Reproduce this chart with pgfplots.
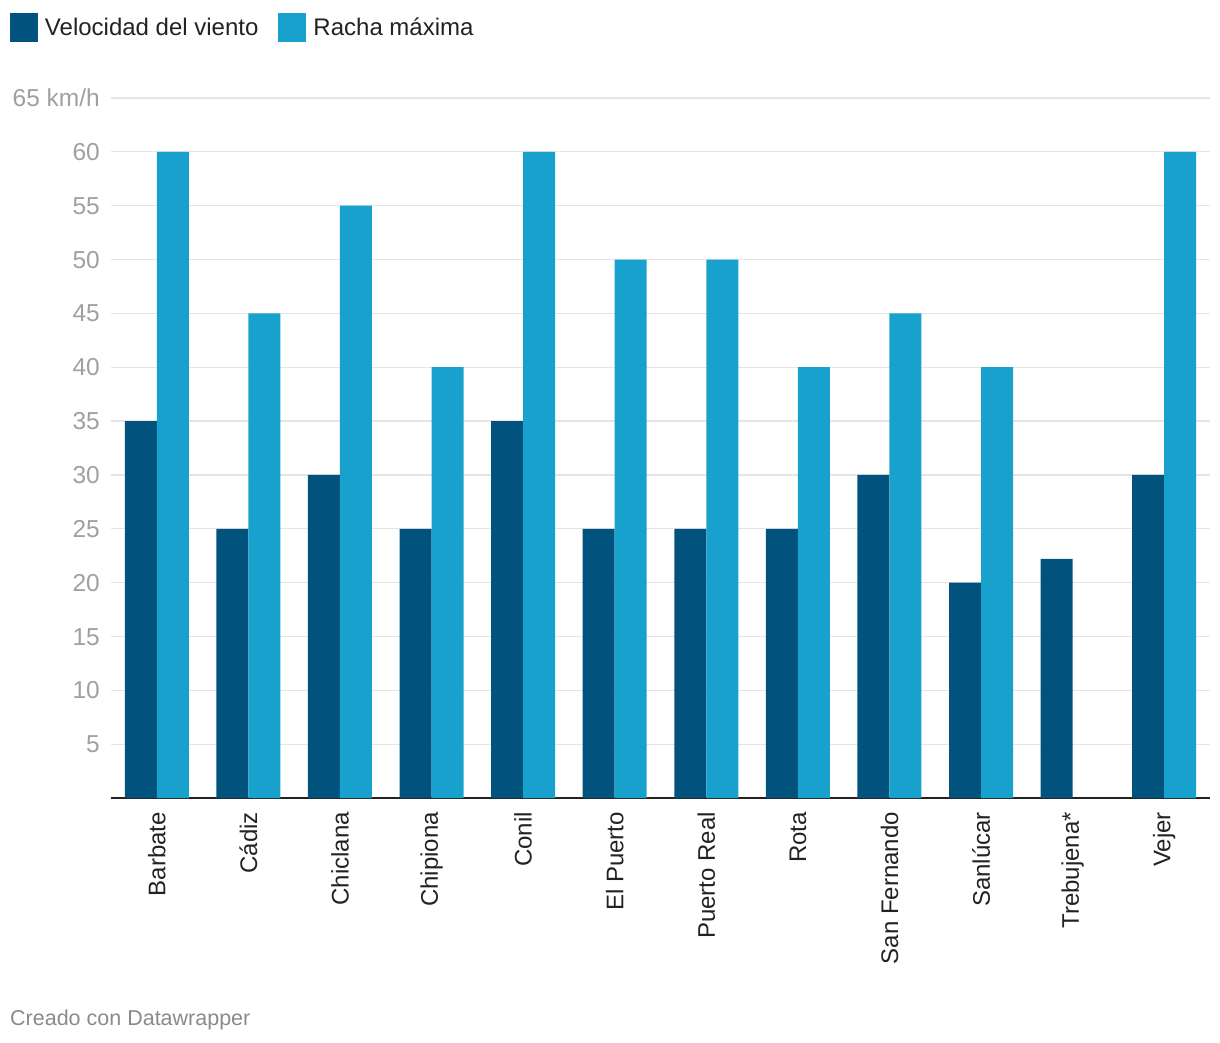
\documentclass[border=0pt]{standalone}
\usepackage{fontspec}
\setmainfont{Liberation Sans}
\usepackage{pgfplots}
\pgfplotsset{compat=1.18}
\definecolor{dark}{HTML}{01537D}
\definecolor{light}{HTML}{18A1CD}
\definecolor{tickc}{HTML}{A0A0A0}
\definecolor{gridc}{HTML}{E5E5E5}
\definecolor{txt}{HTML}{222222}
\definecolor{foot}{HTML}{8A8A8A}
\begin{document}
\begin{tikzpicture}[x=1pt,y=1pt]
\useasboundingbox (0,0) rectangle (1220,1042);
\begin{axis}[
  at={(111pt,244pt)}, anchor=south west, scale only axis,
  width=1099pt, height=700pt,
  xmin=-0.5, xmax=11.5, ymin=0, ymax=65,
  ybar=0pt, bar width=32pt,
  axis line style={draw=none},
  major tick length=0pt,
  ytick={5,10,...,65},
  yticklabels={5,10,15,20,25,30,35,40,45,50,55,60,65 km/h},
  ymajorgrids, grid style={gridc, line width=1.3pt},
  extra y ticks={0}, extra y tick labels={},
  extra y tick style={grid style={txt, line width=2pt}},
  yticklabel style={anchor=base east, inner sep=0pt, xshift=-11pt, yshift=-8.6pt,
    font=\fontsize{24.5}{28}\selectfont, text=tickc},
  xtick={0,1,...,11},
  xticklabels={Barbate,Cádiz,Chiclana,Chipiona,Conil,El Puerto,Puerto Real,Rota,San Fernando,Sanlúcar,Trebujena*,Vejer},
  xticklabel style={rotate=90, anchor=east, inner sep=0pt, xshift=-14pt,
    font=\fontsize{24}{28}\selectfont, text=txt},
  legend columns=2,
  legend style={at={(-0.0919,1.1214)}, anchor=north west, draw=none, fill=none,
    inner sep=0pt, outer sep=0pt, font=\fontsize{24}{28}\selectfont, text=txt,
    column sep=7pt, /tikz/every even column/.append style={column sep=20pt},
    nodes={inner sep=0pt}, cells={anchor=base west}},
]
\addplot[fill=dark, draw=none, legend image code/.code={\fill[dark] (0pt,-7pt) rectangle (28pt,22pt);}]
  coordinates {(0,35) (1,25) (2,30) (3,25) (4,35) (5,25) (6,25) (7,25) (8,30) (9,20) (10,22.2) (11,30)};
\addlegendentry{Velocidad del viento}
\addplot[fill=light, draw=none, legend image code/.code={\fill[light] (0pt,-7pt) rectangle (28pt,22pt);}]
  coordinates {(0,60) (1,45) (2,55) (3,40) (4,60) (5,50) (6,50) (7,40) (8,45) (9,40) (11,60)};
\addlegendentry{Racha máxima}
\end{axis}
\node[anchor=base west, inner sep=0pt, font=\fontsize{21.5}{26}\selectfont, text=foot] at (10,17) {Creado con Datawrapper};
\end{tikzpicture}
\end{document}
